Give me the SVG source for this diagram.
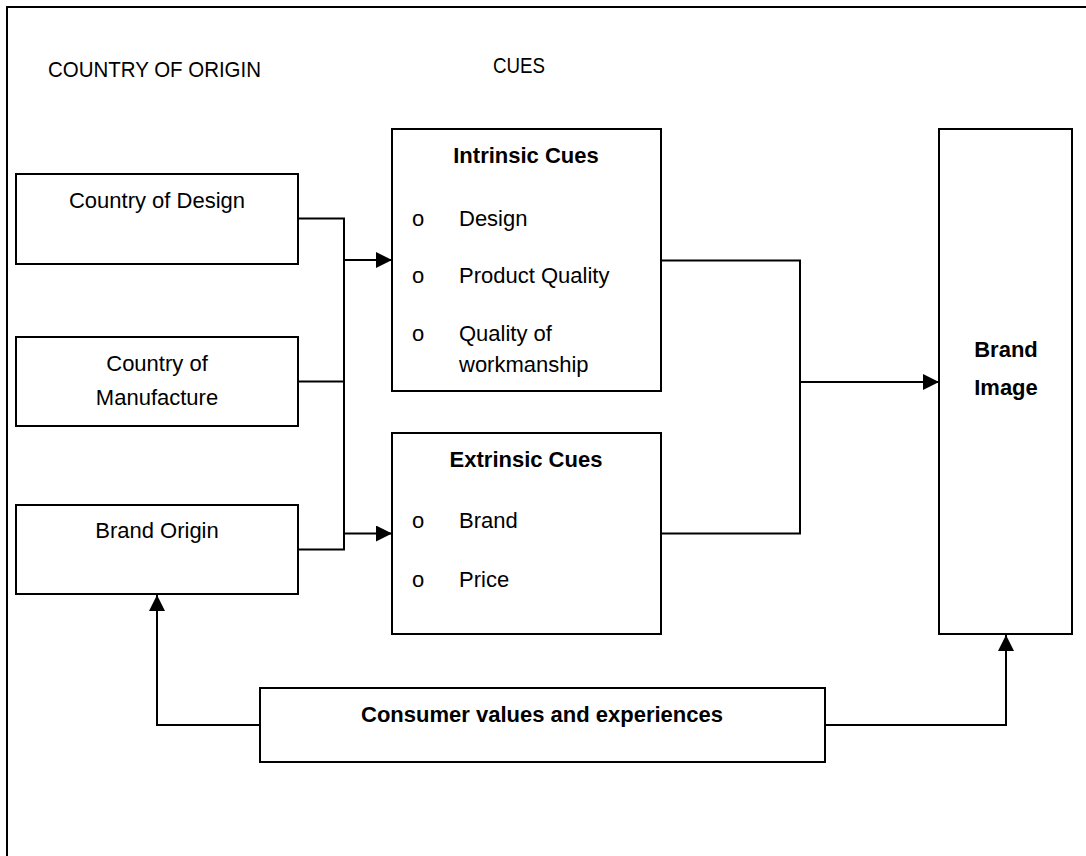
<svg xmlns="http://www.w3.org/2000/svg" width="1086" height="856" viewBox="0 0 1086 856">
<style>
  .box { fill: #ffffff; stroke: #000000; stroke-width: 2; }
  .frame { fill: none; stroke: #000000; stroke-width: 2; }
  .conn { fill: none; stroke: #000000; stroke-width: 2; }
  text { font-family: "Liberation Sans", Arial, sans-serif; font-size: 22px; fill: #000000; }
  .c { text-anchor: middle; }
  .b { font-weight: bold; }
  .bul { font-size: 22px; text-anchor: middle; }
</style>
<defs>
  <marker id="arrow" markerUnits="userSpaceOnUse" markerWidth="16" markerHeight="16" refX="16" refY="8" orient="auto">
    <path d="M0,0 L16,8 L0,16 z" fill="#000000"/>
  </marker>
</defs>
<rect width="1086" height="856" fill="#ffffff"/>
<rect class="frame" x="7" y="7" width="1120" height="900"/>
<text x="48" y="77" textLength="213" lengthAdjust="spacingAndGlyphs">COUNTRY OF ORIGIN</text>
<text x="493" y="73" textLength="52" lengthAdjust="spacingAndGlyphs">CUES</text>
<g id="connectors">
  <polyline class="conn" points="298,218.5 344,218.5 344,549.5 298,549.5"/>
  <line class="conn" x1="298" y1="381.5" x2="344" y2="381.5"/>
  <line class="conn" x1="344" y1="260" x2="392" y2="260" marker-end="url(#arrow)"/>
  <line class="conn" x1="344" y1="533.5" x2="392" y2="533.5" marker-end="url(#arrow)"/>
  <polyline class="conn" points="661,260.5 800,260.5 800,533.5 661,533.5"/>
  <line class="conn" x1="800" y1="382" x2="939" y2="382" marker-end="url(#arrow)"/>
  <polyline class="conn" points="260,725 157,725 157,595" marker-end="url(#arrow)"/>
  <polyline class="conn" points="825,725 1006,725 1006,635" marker-end="url(#arrow)"/>
</g>
<g id="country-of-design">
  <rect class="box" x="16" y="174" width="282" height="90"/>
  <text class="c" x="157" y="208">Country of Design</text>
</g>
<g id="country-of-manufacture">
  <rect class="box" x="16" y="337" width="282" height="89"/>
  <text class="c" x="157" y="371">Country of</text>
  <text class="c" x="157" y="405">Manufacture</text>
</g>
<g id="brand-origin">
  <rect class="box" x="16" y="505" width="282" height="89"/>
  <text class="c" x="157" y="538">Brand Origin</text>
</g>
<g id="intrinsic-cues">
  <rect class="box" x="392" y="129" width="269" height="262"/>
  <text class="c b" x="526" y="163">Intrinsic Cues</text>
  <text class="bul" x="418" y="226">o</text>
  <text x="459" y="226">Design</text>
  <text class="bul" x="418" y="283">o</text>
  <text x="459" y="283">Product Quality</text>
  <text class="bul" x="418" y="341">o</text>
  <text x="459" y="341">Quality of</text>
  <text x="459" y="372">workmanship</text>
</g>
<g id="extrinsic-cues">
  <rect class="box" x="392" y="433" width="269" height="201"/>
  <text class="c b" x="526" y="467">Extrinsic Cues</text>
  <text class="bul" x="418" y="528">o</text>
  <text x="459" y="528">Brand</text>
  <text class="bul" x="418" y="587">o</text>
  <text x="459" y="587">Price</text>
</g>
<g id="brand-image">
  <rect class="box" x="939" y="129" width="133" height="505"/>
  <text class="c b" x="1006" y="357">Brand</text>
  <text class="c b" x="1006" y="395">Image</text>
</g>
<g id="consumer-values">
  <rect class="box" x="260" y="688" width="565" height="74"/>
  <text class="c b" x="542" y="722">Consumer values and experiences</text>
</g>
</svg>
